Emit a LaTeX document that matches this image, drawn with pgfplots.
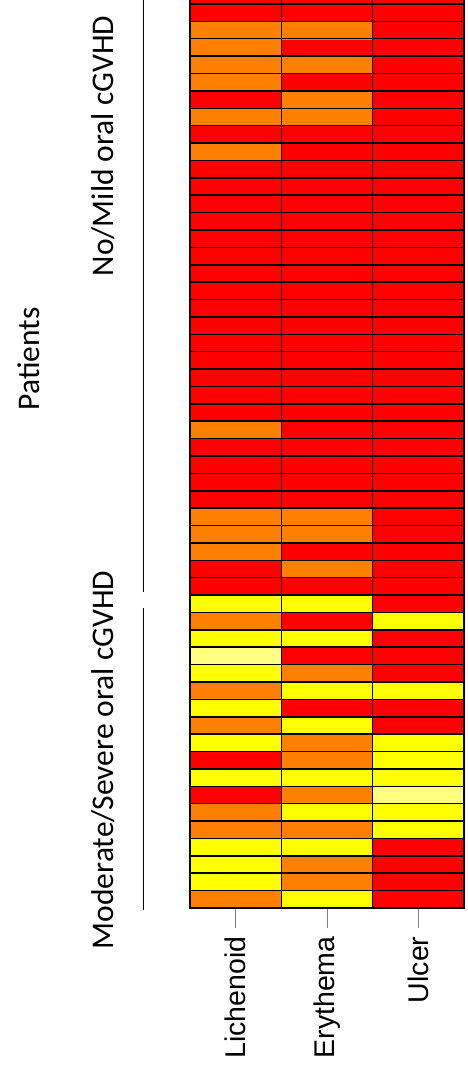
\documentclass[border=0pt]{standalone}
\usepackage{fontspec}
\setmainfont{Carlito}
\newfontfamily\tickfont{Liberation Sans}
\usepackage{pgfplots}
\pgfplotsset{compat=1.18}
\usepackage{pgfplotstable}

% meta: 0 = light yellow, 1 = yellow, 2 = orange, 3 = red
% columns x: 0 Lichenoid, 1 Erythema, 2 Ulcer ; y = patient row (0 = bottom)
\pgfplotstableread{
x y c
0 0 2
1 0 1
2 0 3
0 1 1
1 1 2
2 1 3
0 2 1
1 2 2
2 2 3
0 3 1
1 3 1
2 3 3
0 4 2
1 4 2
2 4 1
0 5 2
1 5 1
2 5 1
0 6 3
1 6 2
2 6 0
0 7 1
1 7 1
2 7 1
0 8 3
1 8 2
2 8 1
0 9 1
1 9 2
2 9 1
0 10 2
1 10 1
2 10 3
0 11 1
1 11 3
2 11 3
0 12 2
1 12 1
2 12 1
0 13 1
1 13 2
2 13 3
0 14 0
1 14 3
2 14 3
0 15 1
1 15 1
2 15 3
0 16 2
1 16 3
2 16 1
0 17 1
1 17 1
2 17 3
0 18 3
1 18 3
2 18 3
0 19 3
1 19 2
2 19 3
0 20 2
1 20 3
2 20 3
0 21 2
1 21 2
2 21 3
0 22 2
1 22 2
2 22 3
0 23 3
1 23 3
2 23 3
0 24 3
1 24 3
2 24 3
0 25 3
1 25 3
2 25 3
0 26 3
1 26 3
2 26 3
0 27 2
1 27 3
2 27 3
0 28 3
1 28 3
2 28 3
0 29 3
1 29 3
2 29 3
0 30 3
1 30 3
2 30 3
0 31 3
1 31 3
2 31 3
0 32 3
1 32 3
2 32 3
0 33 3
1 33 3
2 33 3
0 34 3
1 34 3
2 34 3
0 35 3
1 35 3
2 35 3
0 36 3
1 36 3
2 36 3
0 37 3
1 37 3
2 37 3
0 38 3
1 38 3
2 38 3
0 39 3
1 39 3
2 39 3
0 40 3
1 40 3
2 40 3
0 41 3
1 41 3
2 41 3
0 42 3
1 42 3
2 42 3
0 43 2
1 43 3
2 43 3
0 44 3
1 44 3
2 44 3
0 45 2
1 45 2
2 45 3
0 46 3
1 46 2
2 46 3
0 47 2
1 47 3
2 47 3
0 48 2
1 48 2
2 48 3
0 49 2
1 49 3
2 49 3
0 50 2
1 50 2
2 50 3
0 51 3
1 51 3
2 51 3
0 52 3
1 52 3
2 52 3
}\heattable

\begin{document}
\begin{tikzpicture}
\useasboundingbox (0,0) rectangle (467pt,1068pt);
\begin{axis}[
  at={(190pt,160pt)}, anchor=south west,
  scale only axis,
  width=274pt, height=909.5pt,
  xmin=-0.5, xmax=2.5,
  ymin=-0.5, ymax=51.816,
  colormap={heat}{rgb255(0cm)=(255,255,128); rgb255(1cm)=(255,255,0); rgb255(2cm)=(255,128,0); rgb255(3cm)=(255,0,0)},
  point meta min=0, point meta max=3,
  xtick={0,1,2},
  xticklabels={Lichenoid,Erythema,Ulcer},
  xtick pos=bottom,
  tick align=outside,
  major tick length=20pt,
  xtick style={gray, line width=1pt},
  xticklabel style={rotate=90, anchor=east, font=\tickfont\fontsize{28.5}{34}\selectfont, text=black},
  xticklabel shift=5pt,
  ytick={-0.5,0.5,...,51.5},
  yticklabels={},
  ytick style={draw=none},
  ymajorgrids=true,
  major grid style={black, line width=1.5pt},
  extra x ticks={0.5,1.5},
  extra x tick labels={},
  extra x tick style={grid=major, major grid style={black, line width=0.8pt}, xtick style={draw=none}, major tick length=0pt},
  axis line style={black, line width=1.2pt},
  axis on top,
]
\addplot[matrix plot*, mesh/cols=3, point meta=explicit] table[x=x, y=y, meta=c] {\heattable};
\end{axis}
\draw[black, line width=1pt] (143.3pt,1068pt) -- (143.3pt,476pt);
\draw[black, line width=1pt] (143.3pt,460pt) -- (143.3pt,158pt);
\node[rotate=90, anchor=base, inner sep=0pt, font=\fontsize{31.5}{38}\selectfont] at (113pt,922pt) {No/Mild oral cGVHD};
\node[rotate=90, anchor=base, inner sep=0pt, font=\fontsize{31.5}{38}\selectfont] at (113pt,308pt) {Moderate/Severe oral cGVHD};
\node[rotate=90, anchor=base, inner sep=0pt, font=\fontsize{31.5}{38}\selectfont] at (39pt,709pt) {Patients};
\end{tikzpicture}
\end{document}
